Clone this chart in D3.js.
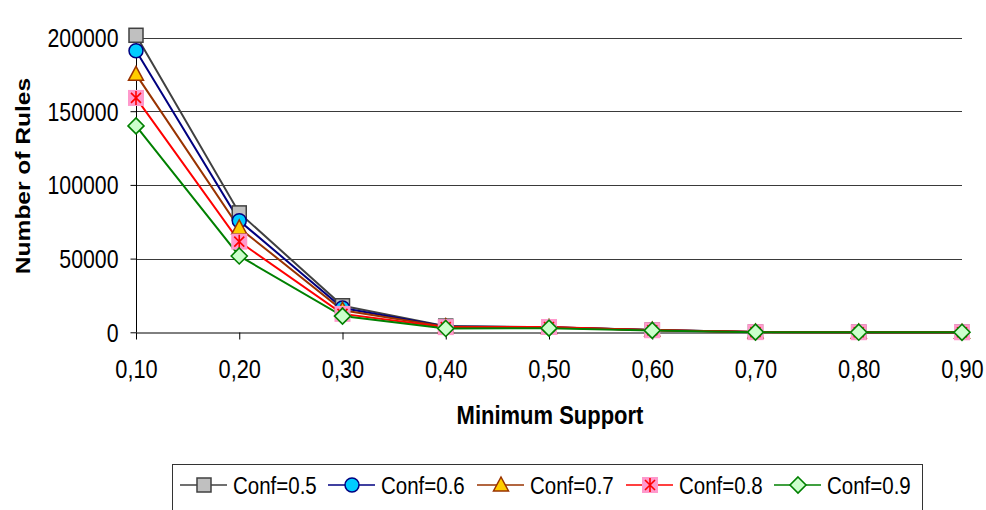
<!DOCTYPE html>
<html>
<head>
<meta charset="utf-8">
<script src="https://cdn.jsdelivr.net/npm/d3@7/dist/d3.min.js"></script>
<style>
  html, body { margin: 0; padding: 0; background: #fff; }
  svg { display: block; font-family: "Liberation Sans", Arial, sans-serif; }
</style>
</head>
<body>
<svg id="chart" width="986" height="510"></svg>
<script>
// Minimum support levels on the x axis
const supports = ["0,10", "0,20", "0,30", "0,40", "0,50", "0,60", "0,70", "0,80", "0,90"];
// Number of association rules per confidence threshold
const conf05 = [201500, 81000, 18000, 4200, 3500, 1500, 200, 100, 50];
const conf06 = [191000, 75700, 16500, 4000, 3400, 1500, 200, 100, 50];
const conf07 = [175000, 70800, 15000, 3800, 3300, 1500, 150, 80, 40];
const conf08 = [159000, 61500, 12500, 3500, 3600, 1400, 120, 60, 30];
const conf09 = [140000, 51800, 11000, 2600, 2800, 1300, 100, 50, 20];
const seriesNames = ["Conf=0.5", "Conf=0.6", "Conf=0.7", "Conf=0.8", "Conf=0.9"];
const yTicks = [0, 50000, 100000, 150000, 200000];

const styles = [
  { line: "#404040", shape: "square",   fill: "#C0C0C0", stroke: "#404040" },
  { line: "#000080", shape: "circle",   fill: "#00CCFF", stroke: "#000080" },
  { line: "#993300", shape: "triangle", fill: "#FFCC00", stroke: "#993300" },
  { line: "#FF0000", shape: "star",     fill: "#FF99CC", stroke: "#FF0000" },
  { line: "#008000", shape: "diamond",  fill: "#CCFFCC", stroke: "#008000" }
];
const series = [conf05, conf06, conf07, conf08, conf09].map((v, i) => ({ name: seriesNames[i], values: v, style: styles[i] }));

const SY = 1.18; // vertical stretch of the lettering
const svg = d3.select("#chart");

const x = d3.scalePoint().domain(supports).range([136, 962]).padding(0);
const y = d3.scaleLinear().domain([0, 200000]).range([332.3, 37.5]);

// horizontal gridlines
svg.append("g").selectAll("line").data(yTicks.filter(t => t > 0)).join("line")
  .attr("x1", 136).attr("x2", 962)
  .attr("y1", d => Math.round(y(d)) + 0.5).attr("y2", d => Math.round(y(d)) + 0.5)
  .attr("stroke", "#3a3a3a").attr("stroke-width", 1);

// y axis
const yAxis = svg.append("g").attr("transform", "translate(136.5,0)")
  .call(d3.axisLeft(y).tickValues(yTicks).tickFormat(d3.format("d")).tickSize(6).tickPadding(12));
yAxis.select(".domain").attr("stroke", "#000").attr("d", `M0,${y(200000)}V${y(0)}`);
yAxis.selectAll(".tick line").attr("stroke", "#000");
yAxis.selectAll(".tick text").attr("font-size", 21.3).attr("fill", "#000")
  .attr("font-family", "'Liberation Sans', Arial, sans-serif")
  .attr("dy", "0.36em").attr("transform", `scale(1,${SY})`);

// x axis
const xAxis = svg.append("g").attr("transform", `translate(0,${Math.round(y(0)) + 0.5})`)
  .call(d3.axisBottom(x).tickSize(7).tickSizeOuter(0));
xAxis.select(".domain").attr("stroke", "#000");
xAxis.selectAll(".tick line").attr("stroke", "#000");
xAxis.selectAll(".tick text").attr("font-size", 21.8).attr("fill", "#000")
  .attr("font-family", "'Liberation Sans', Arial, sans-serif")
  .attr("y", 46 / SY).attr("dy", 0).attr("transform", `scale(1,${SY})`);

// axis titles
svg.append("text").attr("text-anchor", "middle").attr("font-weight", "bold").attr("font-size", 20.8)
  .attr("transform", `translate(30,176) rotate(-90) scale(${SY},1)`).text("Number of Rules");
svg.append("text").attr("text-anchor", "middle").attr("font-weight", "bold").attr("font-size", 22)
  .attr("transform", `translate(550,424) scale(1,${SY})`).text("Minimum Support");

// marker painter
function drawMarker(g, shape, fill, stroke) {
  if (shape === "square") {
    g.append("rect").attr("x", -7).attr("y", -7).attr("width", 14).attr("height", 14)
      .attr("fill", fill).attr("stroke", stroke).attr("stroke-width", 1.5);
  } else if (shape === "circle") {
    g.append("circle").attr("r", 7).attr("fill", fill).attr("stroke", stroke).attr("stroke-width", 1.5);
  } else if (shape === "triangle") {
    g.append("path").attr("d", "M0,-8L7.5,6L-7.5,6Z").attr("fill", fill).attr("stroke", stroke).attr("stroke-width", 1.5);
  } else if (shape === "star") {
    g.append("rect").attr("x", -8).attr("y", -8).attr("width", 16).attr("height", 16).attr("fill", fill);
    g.append("path").attr("d", "M0,-7V7M-5,-5L5,5M5,-5L-5,5").attr("stroke", stroke).attr("stroke-width", 1.6);
  } else if (shape === "diamond") {
    g.append("path").attr("d", "M0,-8L8,0L0,8L-8,0Z").attr("fill", fill).attr("stroke", stroke).attr("stroke-width", 1.6);
  }
}

// series lines and markers
const line = d3.line().x((d, i) => x(supports[i])).y(d => y(d));
const plot = svg.append("g");
series.forEach(s => {
  plot.append("path").datum(s.values).attr("d", line)
    .attr("fill", "none").attr("stroke", s.style.line).attr("stroke-width", 2);
});
series.forEach(s => {
  s.values.forEach((v, i) => {
    const g = plot.append("g").attr("transform", `translate(${x(supports[i])},${y(v)})`);
    drawMarker(g, s.style.shape, s.style.fill, s.style.stroke);
  });
});

// legend
const legend = svg.append("g");
legend.append("rect").attr("x", 172.5).attr("y", 464.5).attr("width", 750).attr("height", 60)
  .attr("fill", "#fff").attr("stroke", "#333").attr("stroke-width", 1);
const legendX = [180, 328, 477, 626, 774];
series.forEach((s, i) => {
  const g = legend.append("g").attr("transform", `translate(${legendX[i]},485)`);
  g.append("line").attr("x1", 0).attr("x2", 47).attr("stroke", s.style.line).attr("stroke-width", 1.6);
  const m = g.append("g").attr("transform", "translate(24,0)");
  drawMarker(m, s.style.shape, s.style.fill, s.style.stroke);
  g.append("text").attr("font-size", 20.5).attr("transform", `translate(53,9) scale(1,${SY})`).text(s.name);
});
</script>
</body>
</html>
